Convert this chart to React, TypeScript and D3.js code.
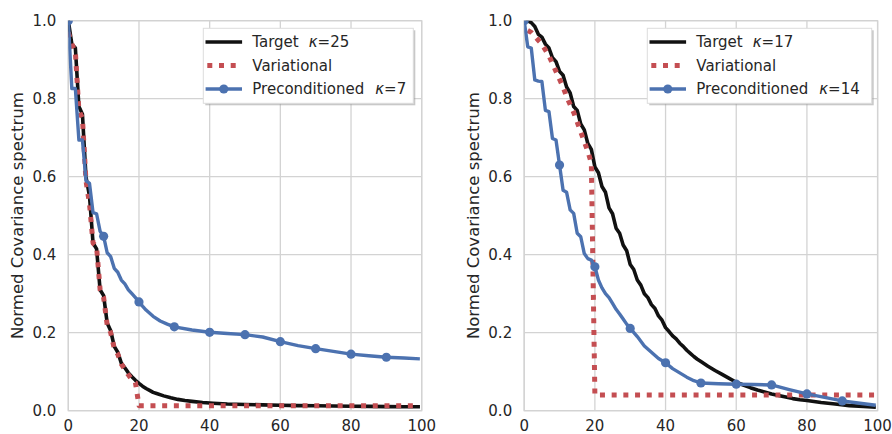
import React from 'react';
import * as d3 from 'd3';

type P = [number, number];

const xTicks = [0, 20, 40, 60, 80, 100];
const yTicks = [0, 0.2, 0.4, 0.6, 0.8, 1.0];
const yLabelText = 'Normed Covariance spectrum';
const seriesNames = ['Target', 'Variational', 'Preconditioned'];

// Left panel
const leftTarget: P[] = [
  [0, 1.0], [1, 0.94], [2, 0.93], [3, 0.78], [4, 0.76], [5, 0.6], [6, 0.55], [7, 0.43], [8, 0.415],
  [9, 0.31], [10, 0.295], [11, 0.225], [12, 0.205], [13, 0.165], [14, 0.15], [15, 0.122], [16, 0.11],
  [17, 0.097], [18, 0.087], [19, 0.078], [20, 0.07], [21, 0.063], [22, 0.057], [23, 0.052], [24, 0.047],
  [25, 0.044], [27, 0.038], [29, 0.033], [31, 0.029], [33, 0.026], [35, 0.024], [38, 0.021], [41, 0.019],
  [45, 0.017], [50, 0.016], [55, 0.015], [60, 0.014], [65, 0.013], [70, 0.0125], [75, 0.012], [80, 0.0115],
  [85, 0.011], [90, 0.0105], [95, 0.01], [99, 0.01],
];
const leftVariational: P[] = [
  [0, 0.97], [1, 0.94], [2, 0.92], [3, 0.77], [4, 0.75], [5, 0.59], [6, 0.53], [7, 0.43], [8, 0.42],
  [9, 0.31], [10, 0.29], [11, 0.22], [12, 0.2], [13, 0.16], [14, 0.145], [15, 0.12], [16, 0.105],
  [17, 0.092], [18, 0.08], [19, 0.072], [20, 0.013], [99, 0.013],
];
const leftPrecond: P[] = [
  [0, 1.0], [1, 0.826], [2, 0.826], [3, 0.694], [4, 0.694], [5, 0.59], [6, 0.583], [7, 0.508], [8, 0.505],
  [9, 0.46], [10, 0.447], [11, 0.405], [12, 0.395], [13, 0.365], [14, 0.355], [15, 0.335], [16, 0.325],
  [17, 0.31], [18, 0.3], [19, 0.29], [20, 0.279], [21, 0.268], [22, 0.258], [24, 0.242], [26, 0.23],
  [28, 0.222], [30, 0.215], [35, 0.207], [40, 0.201], [45, 0.198], [50, 0.195], [55, 0.189], [60, 0.177],
  [65, 0.167], [70, 0.159], [75, 0.152], [80, 0.145], [85, 0.141], [90, 0.137], [95, 0.135], [99, 0.133],
];

// Right panel
const rightTarget: P[] = [
  [1, 1.0], [2, 0.995], [3, 0.985], [4, 0.965], [5, 0.958], [6, 0.94], [7, 0.93], [8, 0.905], [9, 0.895],
  [10, 0.87], [11, 0.86], [12, 0.83], [13, 0.815], [14, 0.78], [15, 0.77], [16, 0.735], [17, 0.72],
  [18, 0.685], [19, 0.67], [20, 0.625], [21, 0.61], [22, 0.575], [23, 0.56], [24, 0.52], [25, 0.505],
  [26, 0.468], [27, 0.455], [28, 0.425], [29, 0.41], [30, 0.375], [31, 0.362], [32, 0.335], [33, 0.322],
  [34, 0.3], [35, 0.29], [36, 0.272], [37, 0.262], [38, 0.243], [39, 0.232], [40, 0.213], [41, 0.203],
  [42, 0.192], [43, 0.184], [44, 0.173], [45, 0.165], [46, 0.155], [47, 0.147], [48, 0.139], [49, 0.132],
  [50, 0.126], [52, 0.114], [54, 0.103], [56, 0.093], [58, 0.083], [60, 0.073], [62, 0.066], [64, 0.059],
  [66, 0.053], [68, 0.048], [70, 0.043], [72, 0.039], [74, 0.035], [76, 0.031], [78, 0.028], [80, 0.026],
  [84, 0.021], [88, 0.017], [92, 0.013], [96, 0.011], [99, 0.009],
];
const rightVariational: P[] = [
  [1, 0.975], [2, 0.97], [3, 0.96], [4, 0.95], [5, 0.94], [6, 0.925], [7, 0.91], [8, 0.89], [9, 0.87],
  [10, 0.85], [11, 0.83], [12, 0.805], [13, 0.785], [14, 0.765], [15, 0.74], [16, 0.715], [17, 0.69],
  [18, 0.665], [19, 0.635], [20, 0.04], [99, 0.04],
];
const rightPrecond: P[] = [
  [0, 1.0], [1, 0.933], [2, 0.93], [3, 0.848], [4, 0.845], [5, 0.844], [6, 0.77], [7, 0.767], [8, 0.698],
  [9, 0.694], [10, 0.63], [11, 0.565], [12, 0.56], [13, 0.515], [14, 0.506], [15, 0.455], [16, 0.446],
  [17, 0.403], [18, 0.39], [19, 0.386], [20, 0.369], [21, 0.335], [22, 0.315], [23, 0.3], [24, 0.29],
  [25, 0.275], [26, 0.26], [27, 0.248], [28, 0.235], [29, 0.222], [30, 0.211], [32, 0.19], [34, 0.166],
  [36, 0.15], [38, 0.134], [40, 0.123], [42, 0.108], [44, 0.097], [46, 0.086], [48, 0.077], [50, 0.071],
  [55, 0.069], [60, 0.068], [65, 0.067], [70, 0.066], [75, 0.054], [80, 0.043], [85, 0.034], [90, 0.025],
  [95, 0.019], [99, 0.0145],
];

const leftKappa = ['25', '7'];
const rightKappa = ['17', '14'];

const BLACK = '#111111';
const RED = '#C44E52';
const BLUE = '#4C72B0';
const GRID = '#d3d3d3';
const TXT = '#262626';
const FONT = '"DejaVu Sans", sans-serif';

const TOP = 20.7;
const BOTTOM = 410.7;
const WIDTH = 353.4;

interface PanelProps {
  id: string;
  left: number;
  target: P[];
  variational: P[];
  precond: P[];
  kappa: string[];
  legendX: number;
  legendW: number;
}

function Panel({ id, left, target, variational, precond, kappa, legendX, legendW }: PanelProps) {
  const x = d3.scaleLinear().domain([0, 100]).range([left, left + WIDTH]);
  const y = d3.scaleLinear().domain([0, 1]).range([BOTTOM, TOP]);
  const line = d3.line<P>().x((d) => x(d[0])).y((d) => y(d[1]));
  const markers = precond.filter((d) => d[0] % 10 === 0 && d[0] < 100);
  const clipId = `clip-${id}`;
  const legendY = 28.3;
  const legendH = 75;
  const rows = [42, 65.6, 89];
  const hx0 = legendX + 4;
  const hx1 = legendX + 37;
  const tx = legendX + 49;
  return (
    <g>
      <defs>
        <clipPath id={clipId}>
          <rect x={left} y={TOP} width={WIDTH} height={BOTTOM - TOP} />
        </clipPath>
      </defs>
      {/* grid */}
      {xTicks.map((t) => (
        <line key={'gx' + t} x1={x(t)} x2={x(t)} y1={TOP} y2={BOTTOM} stroke={GRID} strokeWidth={1.3} />
      ))}
      {yTicks.map((t) => (
        <line key={'gy' + t} x1={left} x2={left + WIDTH} y1={y(t)} y2={y(t)} stroke={GRID} strokeWidth={1.3} />
      ))}
      <rect x={left} y={TOP} width={WIDTH} height={BOTTOM - TOP} fill="none" stroke={GRID} strokeWidth={1.3} />
      {/* tick labels */}
      {xTicks.map((t) => (
        <text key={'tx' + t} x={x(t)} y={430.5} textAnchor="middle" fontSize={15} fill={TXT} fontFamily={FONT}>
          {t}
        </text>
      ))}
      {yTicks.map((t) => (
        <text key={'ty' + t} x={left - 12} y={y(t)} dy="0.36em" textAnchor="end" fontSize={15} fill={TXT} fontFamily={FONT}>
          {t.toFixed(1)}
        </text>
      ))}
      <text
        transform={`translate(${left - 51},${(TOP + BOTTOM) / 2}) rotate(-90)`}
        dy="0.36em"
        textAnchor="middle"
        fontSize={16.5}
        fill={TXT}
        fontFamily={FONT}
      >
        {yLabelText}
      </text>
      {/* series */}
      <g clipPath={`url(#${clipId})`}>
        <path d={line(target) || ''} fill="none" stroke={BLACK} strokeWidth={3.6} strokeLinejoin="round" strokeLinecap="square" />
        <path d={line(variational) || ''} fill="none" stroke={RED} strokeWidth={5} strokeDasharray="5 6.7" strokeLinejoin="round" />
        <path d={line(precond) || ''} fill="none" stroke={BLUE} strokeWidth={3.4} strokeLinejoin="round" strokeLinecap="square" />
        {markers.map((d) => (
          <circle key={'m' + d[0]} cx={x(d[0])} cy={y(d[1])} r={4.6} fill={BLUE} />
        ))}
      </g>
      {/* legend */}
      <rect x={legendX + 2} y={legendY + 2} width={legendW} height={legendH} fill="#9a9a9a" opacity={0.55} />
      <rect x={legendX} y={legendY} width={legendW} height={legendH} fill="#ffffff" stroke="#dddddd" strokeWidth={1} />
      <line x1={hx0} x2={hx1} y1={rows[0]} y2={rows[0]} stroke={BLACK} strokeWidth={3.6} strokeLinecap="square" />
      <line x1={hx0} x2={hx1} y1={rows[1]} y2={rows[1]} stroke={RED} strokeWidth={5} strokeDasharray="5 6.7" />
      <line x1={hx0} x2={hx1} y1={rows[2]} y2={rows[2]} stroke={BLUE} strokeWidth={3.4} strokeLinecap="square" />
      <circle cx={(hx0 + hx1) / 2} cy={rows[2]} r={4.6} fill={BLUE} />
      <text x={tx} y={rows[0]} dy="0.36em" fontSize={15} fill={TXT} fontFamily={FONT}>
        {seriesNames[0]}
        <tspan dx={10} fontStyle="italic">κ</tspan>
        <tspan>={kappa[0]}</tspan>
      </text>
      <text x={tx} y={rows[1]} dy="0.36em" fontSize={15} fill={TXT} fontFamily={FONT}>
        {seriesNames[1]}
      </text>
      <text x={tx} y={rows[2]} dy="0.36em" fontSize={15} fill={TXT} fontFamily={FONT}>
        {seriesNames[2]}
        <tspan dx={11} fontStyle="italic">κ</tspan>
        <tspan>={kappa[1]}</tspan>
      </text>
    </g>
  );
}

export default function App() {
  return (
    <svg
      width={892}
      height={434}
      viewBox="0 0 892 434"
      style={{ position: 'absolute', left: 0, top: 0, background: '#ffffff' }}
    >
      <rect x={0} y={0} width={892} height={434} fill="#ffffff" />
      <Panel
        id="left"
        left={68.3}
        target={leftTarget}
        variational={leftVariational}
        precond={leftPrecond}
        kappa={leftKappa}
        legendX={203.3}
        legendW={210}
      />
      <Panel
        id="right"
        left={524.2}
        target={rightTarget}
        variational={rightVariational}
        precond={rightPrecond}
        kappa={rightKappa}
        legendX={647.3}
        legendW={224.4}
      />
    </svg>
  );
}
